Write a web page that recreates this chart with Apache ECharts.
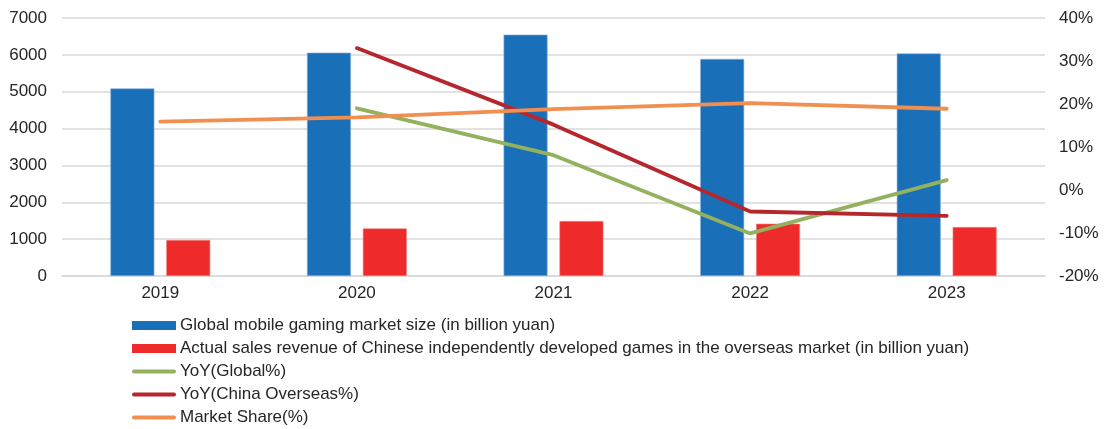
<!DOCTYPE html>
<html><head><meta charset="utf-8">
<script src="https://cdn.jsdelivr.net/npm/echarts@6/dist/echarts.min.js"></script>
<style>html,body{margin:0;padding:0;background:#fff}#c{width:1104px;height:429px}</style>
</head><body><div id="c"></div>
<script>
const categories = ['2019','2020','2021','2022','2023'];
const globalSize = [5090, 6060, 6550, 5890, 6040];
const chinaOverseas = [977, 1293, 1492, 1419, 1329];
const yoyGlobal = [null, 19.0, 8.1, -10.1, 2.3];
const yoyChina = [null, 33.0, 15.2, -5.0, -6.0];
const marketShare = [15.9, 16.9, 18.8, 20.2, 18.9];
const leftTicks = {min:0, max:7000, interval:1000};
const rightTicks = {min:-20, max:40, interval:10};
const names = ['Global mobile gaming market size (in billion yuan)',
 'Actual sales revenue of Chinese independently developed games in the overseas market (in billion yuan)',
 'YoY(Global%)','YoY(China Overseas%)','Market Share(%)'];

const chart = echarts.init(document.getElementById('c'));
const font = 'Liberation Sans, Arial, sans-serif';
const lineIcon = 'path://M2,0 L42,0 A2,2 0 0 1 42,4 L2,4 A2,2 0 0 1 2,0 Z';
const lineS = (name, data, color) => ({
  name, type:'line', yAxisIndex:1, data, symbol:'none', showSymbol:false,
  lineStyle:{color, width:3.8, cap:'round'}, itemStyle:{color}, z:5
});
chart.setOption({
  animation:false,
  textStyle:{fontFamily:font},
  grid:{left:62, right:59, top:18, bottom:153},
  legend:{
    orient:'vertical', left:127, top:312, height:200, itemGap:6, itemWidth:44, itemHeight:9,
    itemStyle:{borderWidth:0},
    textStyle:{fontSize:17, color:'#262626', fontFamily:font, padding:[0,0,0,-1]},
    data:[
      {name:names[0], icon:'rect'},
      {name:names[1], icon:'rect'},
      {name:names[2], icon:lineIcon},{name:names[3], icon:lineIcon},{name:names[4], icon:lineIcon}
    ]
  },
  xAxis:{type:'category', data:categories,
    axisLine:{lineStyle:{color:'#d9d9d9', width:1.5}}, axisTick:{show:false},
    axisLabel:{fontSize:17, color:'#262626', margin:9}},
  yAxis:[
    {type:'value', ...leftTicks, axisLabel:{fontSize:17, color:'#262626', margin:15, formatter:v=>String(v)},
      splitLine:{lineStyle:{color:'#d9d9d9', width:1.5}}, axisLine:{show:false}, axisTick:{show:false}},
    {type:'value', ...rightTicks, axisLabel:{fontSize:17, color:'#262626', margin:14, formatter:'{value}%'},
      splitLine:{show:false}, axisLine:{show:false}, axisTick:{show:false}}
  ],
  series:[
    {name:names[0], type:'bar', data:globalSize, barWidth:44, barGap:'27%',
      itemStyle:{color:'#1a70b8', borderColor:'#8db4dc', borderWidth:0.6}},
    {name:names[1], type:'bar', data:chinaOverseas, barWidth:44,
      itemStyle:{color:'#ef2a2a', borderColor:'#f48a8a', borderWidth:0.6}},
    lineS(names[2], yoyGlobal, '#93b15e'),
    lineS(names[3], yoyChina, '#b5272d'),
    lineS(names[4], marketShare, '#f08f50')
  ]
});
</script></body></html>
